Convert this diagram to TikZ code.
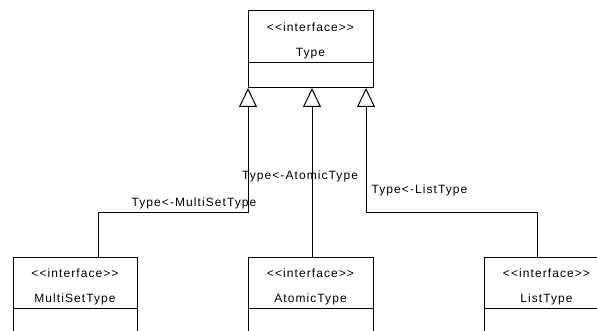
\documentclass[tikz,border=0pt]{standalone}
\usepackage{fontspec}
\newfontfamily\umlfont[LetterSpace=9]{Liberation Sans}
\usetikzlibrary{arrows.meta}
\newcommand{\topstrut}{\rule{0pt}{17pt}}
\tikzset{
  umlhead/.style={draw, line width=1pt, rectangle, inner sep=0pt, outer sep=0pt, align=center,
    font=\umlfont\fontsize{12}{12}\selectfont},
  umlbody/.style={draw, line width=1pt, rectangle, inner sep=0pt, outer sep=0pt, anchor=north},
  gen/.style={draw, line width=1pt, -{Triangle[open, length=19pt, width=18pt, line width=1pt]}},
  conlabel/.style={font=\umlfont\fontsize{12}{12}\selectfont, inner sep=0pt}
}
\begin{document}
\begin{tikzpicture}[x=1pt,y=-1pt]
\clip (0,0) rectangle (597,331);
\fill[white] (0,0) rectangle (597,331);
% Type
\node[umlhead, minimum width=125pt, minimum height=52pt] (type) at (310.5,37) {\topstrut<<interface>>\\[13pt]Type};
\node[umlbody, minimum width=125pt, minimum height=25pt] (typelow) at (type.south) {};
% MultiSetType
\node[umlhead, minimum width=124pt, minimum height=51pt] (ms) at (75,282.5) {\topstrut<<interface>>\\[13pt]MultiSetType};
\node[umlbody, minimum width=124pt, minimum height=40pt] (mslow) at (ms.south) {};
% AtomicType
\node[umlhead, minimum width=125pt, minimum height=51pt] (as) at (310.5,282.5) {\topstrut<<interface>>\\[13pt]AtomicType};
\node[umlbody, minimum width=125pt, minimum height=40pt] (aslow) at (as.south) {};
% ListType
\node[umlhead, minimum width=125pt, minimum height=51pt] (ls) at (546.5,282.5) {\topstrut<<interface>>\\[13pt]ListType};
\node[umlbody, minimum width=125pt, minimum height=40pt] (lslow) at (ls.south) {};
% connectors
\draw[gen] ([xshift=23pt]ms.north) -- ++(0,-44) -| (typelow.south west);
\draw[gen] ([xshift=1.5pt]as.north) -- ([xshift=1.5pt]as.north |- typelow.south);
\draw[gen] ([xshift=-9.5pt]ls.north) -- ++(0,-44) -| ([xshift=-7pt]typelow.south east);
% labels
\node[conlabel] (lms) at (194,203) {Type<-MultiSetType};
\node[conlabel] (las) at (300,176) {Type<-AtomicType};
\node[conlabel] (lls) at (419.5,190) {Type<-ListType};
\end{tikzpicture}
\end{document}
